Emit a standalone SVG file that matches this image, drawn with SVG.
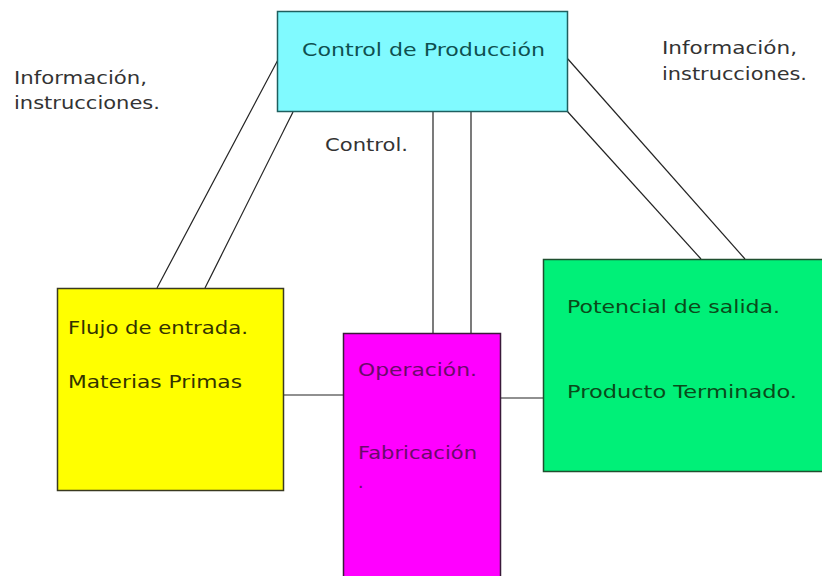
<svg xmlns="http://www.w3.org/2000/svg" width="822" height="576" viewBox="0 0 822 576">
<style>
.t{font-family:"DejaVu Sans","Liberation Sans",sans-serif;font-size:17.5px}
.lbl{fill:#333333}
.ln{stroke:#222;stroke-width:1.2;fill:none}
</style>
<rect width="822" height="576" fill="#ffffff"/>
<g id="connectors">
<line class="ln" x1="157" y1="288" x2="280" y2="56"/>
<line class="ln" x1="205" y1="288" x2="293" y2="112"/>
<line class="ln" x1="433" y1="111" x2="433" y2="333"/>
<line class="ln" x1="471" y1="111" x2="471" y2="333"/>
<line class="ln" x1="567" y1="58" x2="745" y2="259"/>
<line class="ln" x1="567" y1="111" x2="701" y2="259"/>
<line class="ln" x1="283" y1="395" x2="343" y2="395"/>
<line class="ln" x1="501" y1="398" x2="543" y2="398"/>
</g>
<g id="control">
<rect x="277.5" y="11.5" width="290" height="100" fill="#80faff" stroke="#1f5f5f" stroke-width="1.5"/>
<text class="t" x="302" y="56" fill="#0f5050" textLength="243" lengthAdjust="spacingAndGlyphs">Control de Producción</text>
</g>
<g id="entrada">
<rect x="57.5" y="288.5" width="226" height="202" fill="#ffff00" stroke="#3a3a20" stroke-width="1.5"/>
<text class="t" x="68" y="334" fill="#333300" textLength="180" lengthAdjust="spacingAndGlyphs">Flujo de entrada.</text>
<text class="t" x="68" y="388" fill="#333300" textLength="174" lengthAdjust="spacingAndGlyphs">Materias Primas</text>
</g>
<g id="operacion">
<rect x="343.5" y="333.5" width="157" height="250" fill="#ff00ff" stroke="#3a1a3a" stroke-width="1.5"/>
<text class="t" x="358" y="376" fill="#6a0a6a" textLength="119" lengthAdjust="spacingAndGlyphs">Operación.</text>
<text class="t" x="358" y="459" fill="#6a0a6a" textLength="119" lengthAdjust="spacingAndGlyphs">Fabricación</text>
<text class="t" x="358" y="488" fill="#6a0a6a">.</text>
</g>
<g id="salida">
<rect x="543.5" y="259.5" width="285" height="212" fill="#00f078" stroke="#1f4f2f" stroke-width="1.5"/>
<text class="t" x="567" y="313" fill="#0a4a1a" textLength="213" lengthAdjust="spacingAndGlyphs">Potencial de salida.</text>
<text class="t" x="567" y="398" fill="#0a4a1a" textLength="230" lengthAdjust="spacingAndGlyphs">Producto Terminado.</text>
</g>
<g id="labels">
<text class="t lbl" x="14" y="84" textLength="133" lengthAdjust="spacingAndGlyphs">Información,</text>
<text class="t lbl" x="14" y="109" textLength="146" lengthAdjust="spacingAndGlyphs">instrucciones.</text>
<text class="t lbl" x="662" y="54" textLength="135" lengthAdjust="spacingAndGlyphs">Información,</text>
<text class="t lbl" x="662" y="80" textLength="145" lengthAdjust="spacingAndGlyphs">instrucciones.</text>
<text class="t lbl" x="325" y="151" textLength="83" lengthAdjust="spacingAndGlyphs">Control.</text>
</g>
</svg>
